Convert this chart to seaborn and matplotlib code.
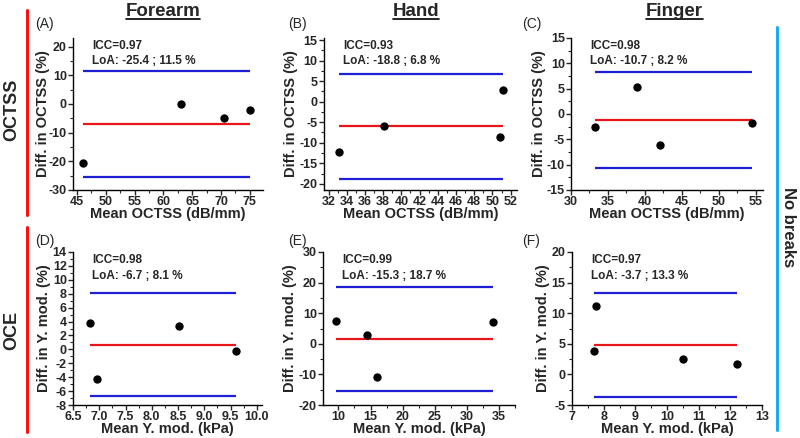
import matplotlib
matplotlib.use("Agg")
import matplotlib.pyplot as plt
from matplotlib.lines import Line2D
from matplotlib.ticker import AutoMinorLocator, FormatStrFormatter, MultipleLocator
import numpy as np
import pandas as pd
import seaborn as sns

# --- data (Bland-Altman, 4 subjects per panel) ---
forearm_octss_mean = [46.0, 63.0, 70.5, 75.0]
forearm_octss_diff = [-20.7, 0.0, -5.0, -2.2]
forearm_octss_bias = -6.95
forearm_octss_loa = [-25.4, 11.5]
forearm_octss_icc = 0.97

hand_octss_mean = [33.2, 38.1, 50.8, 51.2]
hand_octss_diff = [-12.3, -5.9, -8.7, 2.9]
hand_octss_bias = -6.0
hand_octss_loa = [-18.8, 6.8]
hand_octss_icc = 0.93

finger_octss_mean = [33.3, 39.0, 42.0, 54.5]
finger_octss_diff = [-2.6, 5.4, -6.1, -1.7]
finger_octss_bias = -1.25
finger_octss_loa = [-10.7, 8.2]
finger_octss_icc = 0.98

forearm_oce_mean = [6.83, 6.95, 8.52, 9.60]
forearm_oce_diff = [3.8, -4.3, 3.4, -0.3]
forearm_oce_bias = 0.65
forearm_oce_loa = [-6.7, 8.1]
forearm_oce_icc = 0.98

hand_oce_mean = [9.7, 14.5, 16.0, 34.0]
hand_oce_diff = [7.5, 3.0, -11.0, 7.0]
hand_oce_bias = 1.7
hand_oce_loa = [-15.3, 18.7]
hand_oce_icc = 0.99

finger_oce_mean = [7.70, 7.75, 10.5, 12.2]
finger_oce_diff = [3.8, 11.1, 2.5, 1.7]
finger_oce_bias = 4.8
finger_oce_loa = [-3.7, 13.3]
finger_oce_icc = 0.97

column_titles = ["Forearm", "Hand", "Finger"]
row_titles = ["OCTSS", "OCE"]
panel_letters = ["(A)", "(B)", "(C)", "(D)", "(E)", "(F)"]

sns.set_style("ticks")
plt.rcParams["font.family"] = ["Liberation Sans", "DejaVu Sans"]
plt.rcParams["axes.unicode_minus"] = False
plt.rcParams["xtick.direction"] = "out"
plt.rcParams["ytick.direction"] = "out"

W, H = 800, 438
fig = plt.figure(figsize=(8, 4.38), dpi=100)


def px_rect(left, top, right, bottom):
    return [left / W, 1 - bottom / H, (right - left) / W, (bottom - top) / H]


panels = [
    dict(mean=forearm_octss_mean, diff=forearm_octss_diff, bias=forearm_octss_bias,
         loa=forearm_octss_loa, icc=forearm_octss_icc,
         box=(73, 38, 263, 190), ylab_px=50, xlim=(44.3, 77.3), ylim=(-30, 23),
         xmaj=5, ymaj=10, xlabel="Mean OCTSS (dB/mm)", ylabel="Diff. in OCTSS (%)", xfmt="%d"),
    dict(mean=hand_octss_mean, diff=hand_octss_diff, bias=hand_octss_bias,
         loa=hand_octss_loa, icc=hand_octss_icc,
         box=(324, 38, 517, 190), ylab_px=298, xlim=(31.5, 52.7), ylim=(-21.5, 15.5),
         xmaj=2, ymaj=5, xlabel="Mean OCTSS (dB/mm)", ylabel="Diff. in OCTSS (%)", xfmt="%d"),
    dict(mean=finger_octss_mean, diff=finger_octss_diff, bias=finger_octss_bias,
         loa=finger_octss_loa, icc=finger_octss_icc,
         box=(571, 38, 763, 190), ylab_px=546, xlim=(30, 56), ylim=(-15, 15),
         xmaj=5, ymaj=5, xlabel="Mean OCTSS (dB/mm)", ylabel="Diff. in OCTSS (%)", xfmt="%d"),
    dict(mean=forearm_oce_mean, diff=forearm_oce_diff, bias=forearm_oce_bias,
         loa=forearm_oce_loa, icc=forearm_oce_icc,
         box=(73, 252, 262, 405), ylab_px=51, xlim=(6.5, 10.1), ylim=(-8, 14),
         xmaj=0.5, ymaj=2, xlabel="Mean Y. mod. (kPa)", ylabel="Diff. in Y. mod. (%)", xfmt="%.1f"),
    dict(mean=hand_oce_mean, diff=hand_oce_diff, bias=hand_oce_bias,
         loa=hand_oce_loa, icc=hand_oce_icc,
         box=(323, 252, 515, 405), ylab_px=297, xlim=(7.6, 37.5), ylim=(-20, 30),
         xmaj=5, ymaj=10, xlabel="Mean Y. mod. (kPa)", ylabel="Diff. in Y. mod. (%)", xfmt="%d"),
    dict(mean=finger_oce_mean, diff=finger_oce_diff, bias=finger_oce_bias,
         loa=finger_oce_loa, icc=finger_oce_icc,
         box=(572, 252, 762, 405), ylab_px=550, xlim=(7, 13), ylim=(-5, 20),
         xmaj=1, ymaj=5, xlabel="Mean Y. mod. (kPa)", ylabel="Diff. in Y. mod. (%)", xfmt="%d"),
]

blue = "#1f1fd6"
red = "#e8161b"

for i, p in enumerate(panels):
    left, top, right, bottom = p["box"]
    ax = fig.add_axes(px_rect(left, top, right, bottom))
    df = pd.DataFrame({"mean": p["mean"], "diff": p["diff"]})
    x0, x1 = df["mean"].min(), df["mean"].max()
    ax.hlines(p["loa"], x0, x1, color=blue, lw=1.6, zorder=2)
    ax.hlines(p["bias"], x0, x1, color=red, lw=1.6, zorder=2)
    sns.scatterplot(data=df, x="mean", y="diff", ax=ax, color="black", s=36,
                    edgecolor="black", linewidth=0, zorder=3, clip_on=False)
    ax.set_xlim(*p["xlim"])
    ax.set_ylim(*p["ylim"])
    ax.xaxis.set_major_locator(MultipleLocator(p["xmaj"]))
    ax.yaxis.set_major_locator(MultipleLocator(p["ymaj"]))
    ax.xaxis.set_minor_locator(AutoMinorLocator(2))
    ax.yaxis.set_minor_locator(AutoMinorLocator(2))
    ax.xaxis.set_major_formatter(FormatStrFormatter(p["xfmt"]))
    sns.despine(ax=ax)
    for s in ("left", "bottom"):
        ax.spines[s].set_linewidth(1.0)
        ax.spines[s].set_color("black")
    ax.tick_params(which="major", length=3.5, width=1.0, labelsize=9, pad=1)
    ax.tick_params(which="minor", length=2, width=0.8)
    for lab in ax.get_xticklabels() + ax.get_yticklabels():
        lab.set_fontweight("bold")
    ax.set_xlabel(p["xlabel"], fontsize=10.5, fontweight="bold", labelpad=-1)
    ax.set_ylabel(p["ylabel"], fontsize=10.5, fontweight="bold")
    ax.yaxis.set_label_coords((p["ylab_px"] - left) / (right - left), 0.5)
    ax.text(0.1, 0.99, f"ICC={p['icc']:.2f}", transform=ax.transAxes,
            fontsize=8.5, fontweight="bold", va="top", ha="left")
    lo, hi = p["loa"]
    ax.text(0.1, 0.885, f"LoA: {lo} ; {hi} %", transform=ax.transAxes,
            fontsize=8.5, fontweight="bold", va="top", ha="left")

# panel letters
letter_pos = [(35, 24), (288, 24), (522, 24), (35, 241), (288, 241), (522, 241)]
for letter, (lx, ly) in zip(panel_letters, letter_pos):
    fig.text(lx / W, 1 - ly / H, letter, fontsize=10, ha="left", va="center")

# column titles, underlined
title_x = [163, 416, 674]
title_objs = []
for t, tx in zip(column_titles, title_x):
    title_objs.append(fig.text(tx / W, 1 - 11 / H, t, fontsize=13.5, fontweight="bold",
                               ha="center", va="center"))
fig.canvas.draw()
renderer = fig.canvas.get_renderer()
for t in title_objs:
    bb = t.get_window_extent(renderer).transformed(fig.transFigure.inverted())
    fig.add_artist(Line2D([bb.x0, bb.x1], [bb.y0 + 0.002, bb.y0 + 0.002],
                          transform=fig.transFigure, color="black", lw=1.2))

# left row markers
fig.add_artist(Line2D([27 / W, 27 / W], [1 - 10 / H, 1 - 215 / H],
                      transform=fig.transFigure, color="#ff1010", lw=2.2))
fig.add_artist(Line2D([27 / W, 27 / W], [1 - 227 / H, 1 - 432 / H],
                      transform=fig.transFigure, color="#ff1010", lw=2.2))
fig.text(12 / W, 1 - 110 / H, row_titles[0], fontsize=13, fontweight="bold",
         rotation=90, ha="center", va="center")
fig.text(12 / W, 1 - 330 / H, row_titles[1], fontsize=13, fontweight="bold",
         rotation=90, ha="center", va="center")

# right marker
fig.add_artist(Line2D([777 / W, 777 / W], [1 - 27 / H, 1 - 430 / H],
                      transform=fig.transFigure, color="#19aef0", lw=2.2))
fig.text(789 / W, 1 - 227 / H, "No breaks", fontsize=12, fontweight="bold",
         rotation=-90, ha="center", va="center")

fig.savefig("out.png", dpi=100)
